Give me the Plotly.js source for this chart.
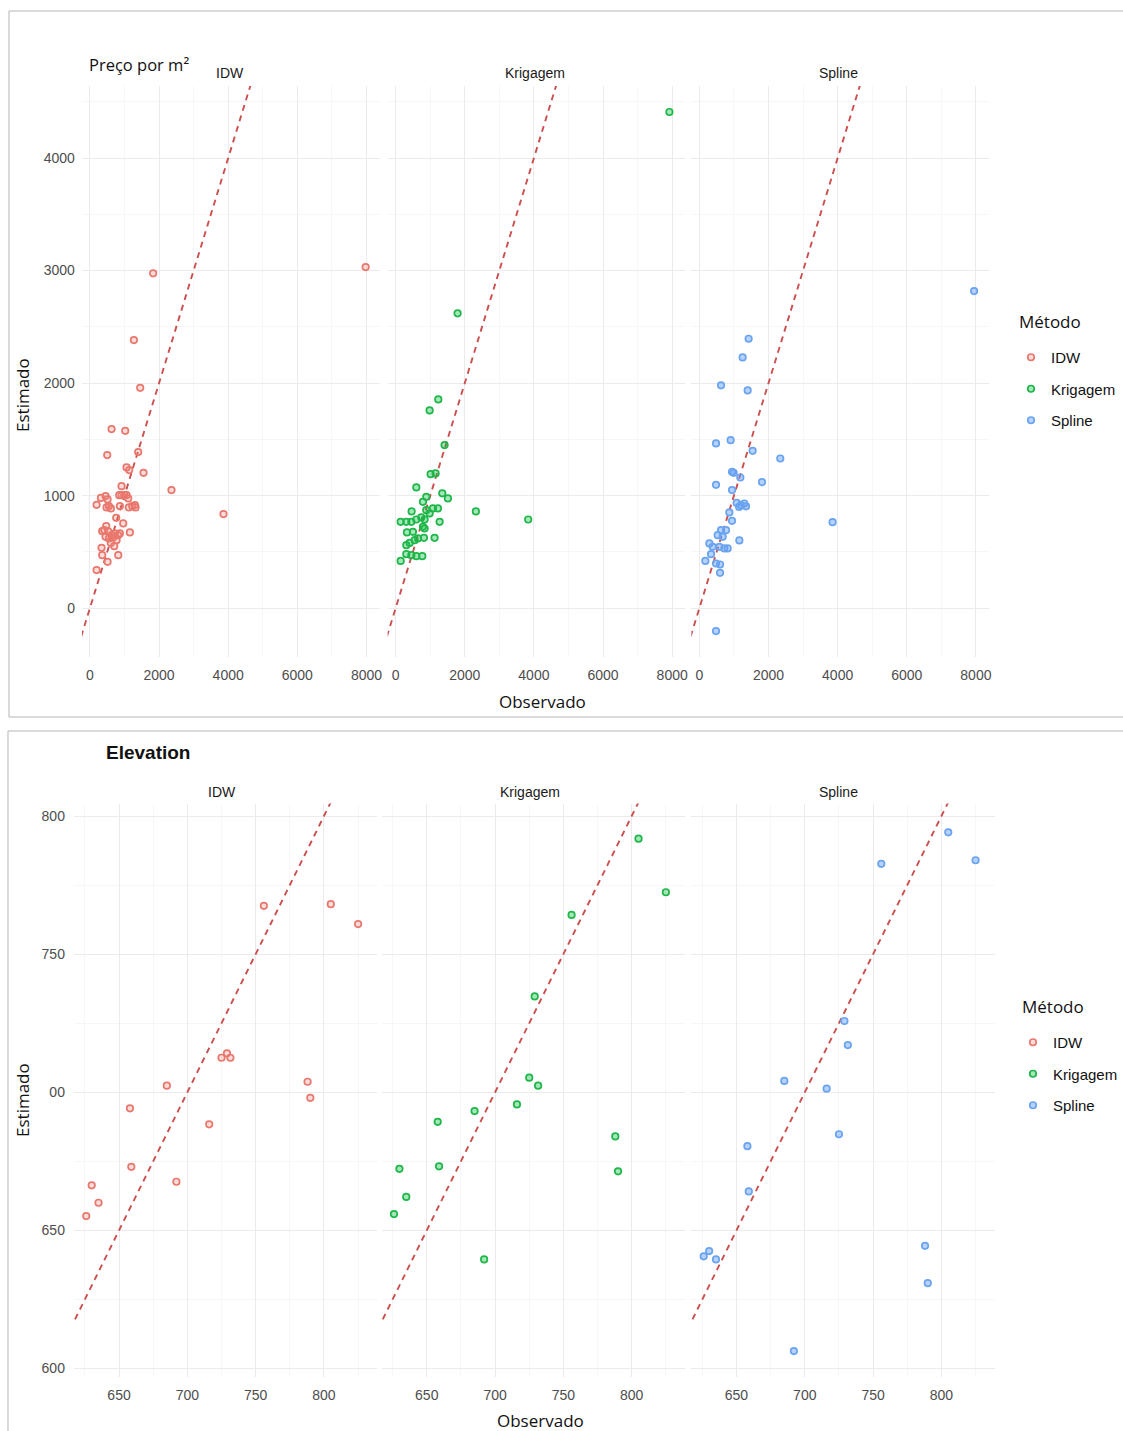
<!DOCTYPE html>
<html><head><meta charset="utf-8">
<script src="https://cdn.plot.ly/plotly-3.0.1.min.js"></script>
<style>html,body{margin:0;padding:0;background:#fff}#chart{width:1123px;height:1431px}</style>
</head><body><div id="chart"></div>
<script>
// ---------- DATA ----------
const methods = ["IDW", "Krigagem", "Spline"];

// Top chart: Preço por m²
const precoIDW_obs = [1830,1272,1455,627,1021,501,1397,1060,1137,1551,915,2360,3864,848,915,991,1060,1108,318,453,511,193,482,549,607,867,1127,1224,1301,1320,761,964,472,356,414,1156,530,627,723,818,867,453,549,674,771,607,703,337,356,819,511,193,7977];
const precoIDW_est = [2975,2382,1958,1591,1576,1360,1387,1251,1227,1203,1084,1049,836,1004,1004,1004,1004,975,980,996,966,918,895,907,886,907,895,907,916,895,803,753,729,684,693,673,682,649,664,649,664,634,620,628,604,580,551,536,471,471,412,338,3031];

const precoKrig_obs = [1792,1234,983,1416,1012,1156,598,1349,1512,887,790,462,2321,3835,1223,1079,983,145,309,454,598,742,887,838,1272,327,500,838,790,819,1127,309,405,549,645,145,309,454,598,771,7920];
const precoKrig_est = [2620,1855,1757,1449,1191,1197,1073,1020,975,989,945,860,860,788,886,886,842,767,767,767,788,806,871,788,767,673,678,708,723,625,625,560,580,604,620,420,480,471,462,462,4409];

const precoSpline_obs = [1425,1252,627,1397,482,905,1541,2341,945,992,1185,1812,482,945,1080,1300,1350,1150,1200,867,945,3854,627,771,530,675,1156,289,385,578,723,819,338,173,482,598,598,482,7948];
const precoSpline_est = [2394,2228,1980,1935,1464,1493,1398,1330,1212,1203,1161,1120,1096,1049,935,930,905,900,915,851,776,764,693,693,649,634,602,575,545,545,531,531,480,420,397,388,314,-204,2818];

// Bottom chart: Elevation
const elevObs = [626,630,635,658,659,685,692,716,725,729,731.5,756,788,790,805,825];
const elevIDW = [655.2,666.3,660.0,694.2,673.0,702.4,667.6,688.4,712.5,714.1,712.5,767.5,703.8,698.0,768.1,760.9];
const elevKrig = [655.9,672.3,662.1,689.3,673.2,693.2,639.5,695.6,705.3,734.7,702.4,764.2,684.0,671.4,791.8,772.4];
const elevSpline = [640.6,642.5,639.5,680.5,664.1,704.1,606.3,701.3,684.8,725.8,717.1,782.7,644.4,630.9,794.1,784.0];

const topXTicks = [0, 2000, 4000, 6000, 8000];
const topYTicks = [0, 1000, 2000, 3000, 4000];
const botXTicks = [650, 700, 750, 800];
const botYTicks = [600, 650, 700, 750, 800];
const botYTickText = ["600", "650", "00", "750", "800"];

// ---------- STYLE / LAYOUT ----------
const W = 1123, H = 1431;
const fill = {IDW: "rgba(248,118,109,0.25)", Krigagem: "rgba(0,186,56,0.35)", Spline: "rgba(97,156,255,0.45)"};
const line = {IDW: "#e8786e", Krigagem: "#1fb64a", Spline: "#6aa4ef"};
const xd = (a, b) => [a / W, b / W];
const yd = (top, bottom) => [1 - bottom / H, 1 - top / H];

const topXRange = [-231, 8382], topYRange = [-434, 4640];
const botXRange = [617, 839], botYRange = [597, 804.5];

const topData = [[precoIDW_obs, precoIDW_est], [precoKrig_obs, precoKrig_est], [precoSpline_obs, precoSpline_est]];
const botData = [[elevObs, elevIDW], [elevObs, elevKrig], [elevObs, elevSpline]];

const traces = [];
function addPanel(idx, obs, est, m, legend, range) {
  const xa = idx === 1 ? "x" : "x" + idx, ya = idx === 1 ? "y" : "y" + idx;
  traces.push({
    type: "scatter", mode: "lines", x: range, y: range, xaxis: xa, yaxis: ya,
    line: {color: "#cc4f4f", width: 1.9, dash: "6px,5px"}, showlegend: false, hoverinfo: "skip"
  });
  traces.push({
    type: "scatter", mode: "markers", x: obs, y: est, xaxis: xa, yaxis: ya, name: m,
    legend: legend, legendgroup: legend + m, showlegend: true,
    marker: {size: 6.5, color: fill[m], line: {color: line[m], width: 1.7}}
  });
}
methods.forEach((m, i) => addPanel(i + 1, topData[i][0], topData[i][1], m, "legend", [-1000, 10000]));
methods.forEach((m, i) => addPanel(i + 4, botData[i][0], botData[i][1], m, "legend2", [500, 900]));

const tickFont = {family: "Liberation Sans, Arial, sans-serif", size: 14, color: "#4d4d4d"};
const gridBase = {showline: false, zeroline: false, ticks: "", gridcolor: "#ebebeb", gridwidth: 1, tickfont: tickFont, fixedrange: true};
const legFont = {family: "Liberation Sans, Arial, sans-serif", size: 15, color: "#111"};

const layout = {
  width: W, height: H, margin: {l: 0, r: 0, t: 0, b: 0},
  paper_bgcolor: "#ffffff", plot_bgcolor: "#ffffff", showlegend: true,
  font: {family: "Liberation Sans, Arial, sans-serif"},
  shapes: [
    {type: "rect", xref: "paper", yref: "paper", x0: 9 / W, x1: 1.01, y0: 1 - 717 / H, y1: 1 - 11 / H, line: {color: "#b5b5b5", width: 1}},
    {type: "rect", xref: "paper", yref: "paper", x0: 8 / W, x1: 1.01, y0: -0.01, y1: 1 - 731 / H, line: {color: "#b5b5b5", width: 1}}
  ],
  annotations: [],
  legend: {x: 1011 / W, y: 1 - 341 / H, xanchor: "left", yanchor: "top", traceorder: "grouped", tracegroupgap: 9,
    font: legFont, bgcolor: "rgba(0,0,0,0)"},
  legend2: {x: 1014 / W, y: 1 - 1026 / H, xanchor: "left", yanchor: "top", traceorder: "grouped", tracegroupgap: 9,
    font: legFont, bgcolor: "rgba(0,0,0,0)"}
};

const topXDomains = [xd(82, 380), xd(388, 686), xd(692, 990)];
const botXDomains = [xd(74, 377.6), xd(382, 685.6), xd(692, 995.6)];
const topYDom = yd(86, 657), botYDom = yd(803.6, 1376.8);

for (let i = 0; i < 3; i++) {
  const k = i + 1, kb = i + 4;
  layout["xaxis" + (k === 1 ? "" : k)] = Object.assign({}, gridBase, {
    domain: topXDomains[i], range: topXRange, anchor: k === 1 ? "y" : "y" + k,
    tickmode: "array", tickvals: topXTicks, ticklabelstandoff: 8,
    minor: {tickmode: "linear", tick0: 0, dtick: 1000, showgrid: true, gridcolor: "#f3f3f3", gridwidth: 0.7}
  });
  layout["yaxis" + (k === 1 ? "" : k)] = Object.assign({}, gridBase, {
    domain: topYDom, range: topYRange, anchor: k === 1 ? "x" : "x" + k,
    tickmode: "array", tickvals: topYTicks, showticklabels: i === 0, ticklabelstandoff: 6,
    minor: {tickmode: "linear", tick0: 0, dtick: 500, showgrid: true, gridcolor: "#f3f3f3", gridwidth: 0.7}
  });
  layout["xaxis" + kb] = Object.assign({}, gridBase, {
    domain: botXDomains[i], range: botXRange, anchor: "y" + kb,
    tickmode: "array", tickvals: botXTicks, ticklabelstandoff: 8,
    minor: {tickmode: "linear", tick0: 0, dtick: 25, showgrid: true, gridcolor: "#f3f3f3", gridwidth: 0.7}
  });
  layout["yaxis" + kb] = Object.assign({}, gridBase, {
    domain: botYDom, range: botYRange, anchor: "x" + kb,
    tickmode: "array", tickvals: botYTicks, ticktext: botYTickText, showticklabels: i === 0, ticklabelstandoff: 8,
    minor: {tickmode: "linear", tick0: 0, dtick: 25, showgrid: true, gridcolor: "#f3f3f3", gridwidth: 0.7}
  });
}

function ann(text, x, y, opts) {
  layout.annotations.push(Object.assign({
    text: text, xref: "paper", yref: "paper", x: x / W, y: 1 - y / H, showarrow: false,
    xanchor: "center", yanchor: "middle",
    font: {family: "Liberation Sans, Arial, sans-serif", size: 14, color: "#1a1a1a"}
  }, opts || {}));
}
// strip labels
const topStripX = [230, 535, 839], botStripX = [222, 530, 839];
methods.forEach((m, i) => { ann(m, topStripX[i], 73); ann(m, botStripX[i], 792); });
// titles
ann("Preço por m²", 87, 64, {xanchor: "left", font: {family: "Open Sans, sans-serif", size: 16.5, color: "#111"}});
ann("<b>Elevation</b>", 104, 753, {xanchor: "left", font: {family: "Liberation Sans, Arial, sans-serif", size: 19, color: "#111"}});
// legend titles
ann("Método", 1018, 321, {xanchor: "left", font: {family: "Open Sans, sans-serif", size: 17, color: "#111"}});
ann("Método", 1021, 1006, {xanchor: "left", font: {family: "Open Sans, sans-serif", size: 17, color: "#111"}});
// axis titles
ann("Observado", 543, 701, {font: {family: "Open Sans, sans-serif", size: 17, color: "#111"}});
ann("Observado", 541, 1420, {font: {family: "Open Sans, sans-serif", size: 17, color: "#111"}});
ann("Estimado", 22, 395, {textangle: -90, font: {family: "Open Sans, sans-serif", size: 17, color: "#111"}});
ann("Estimado", 22, 1100, {textangle: -90, font: {family: "Open Sans, sans-serif", size: 17, color: "#111"}});

Plotly.newPlot("chart", traces, layout, {staticPlot: true, displayModeBar: false});
</script>
</body></html>
